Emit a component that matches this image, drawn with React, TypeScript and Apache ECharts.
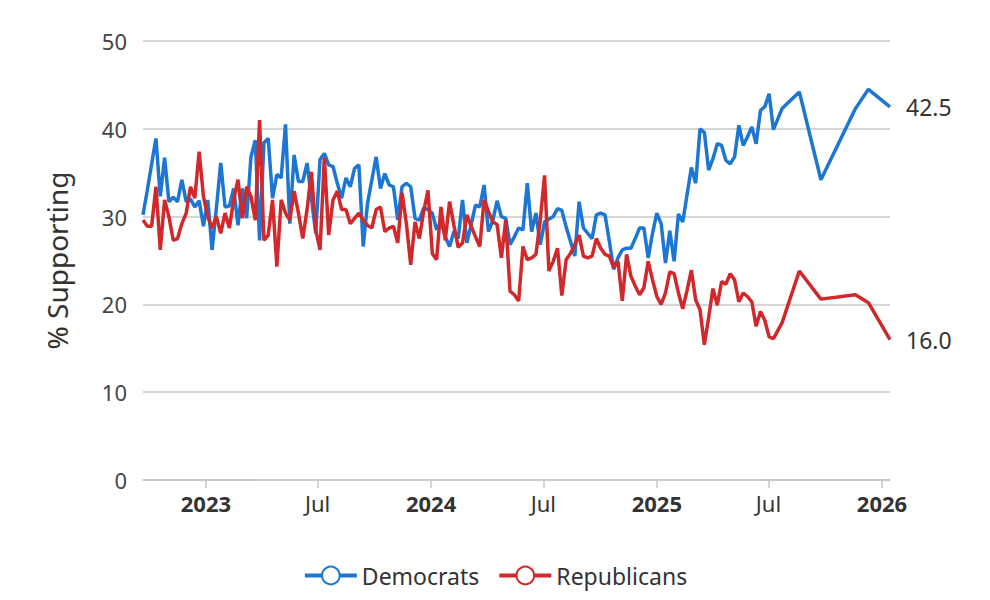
import React, { useEffect, useRef } from 'react';
import * as echarts from 'echarts';

// Weekly polls from this start date, then sparser polls
const weeklyStart = '2022-09-21';

const demWeekly = [
  30.2, 33, 36, 38.9, 32.3, 36.7, 31.7, 32.2, 31.7, 34.2,
  31.7, 32, 31.1, 31.8, 28.9, 31.9, 26.2, 31, 36.1, 31.1,
  31.2, 33.2, 29, 33.2, 29.8, 36.8, 38.7, 27.3, 38.4, 38.9,
  32.1, 34.8, 34.4, 40.5, 29.2, 37, 34, 34, 36.1, 32.1,
  28.1, 36.5, 37.2, 35.9, 35.7, 33.8, 32.1, 34.4, 33.4, 35.5,
  35.9, 26.6, 31.5, 34.2, 36.8, 33.2, 34.9, 33.6, 33.4, 29.6,
  33.4, 33.8, 33.4, 29.8, 29.6, 31, 30.8, 30.4, 28.5, 29.4,
  27.7, 26.6, 28.3, 27.5, 31.9, 27, 29.1, 31.3, 31.1, 33.6,
  28.3, 29.5, 31.8, 30, 29.8, 26.8, 27.7, 28.7, 28.5, 33.8,
  28.3, 30.4, 26.8, 29.4, 29.7, 30, 30.9, 30.7, 28.8, 27.2,
  25.5, 31.7, 28.7, 28.1, 27.5, 30.2, 30.4, 30.2, 27.2, 24,
  25.3, 26.2, 26.4, 26.4, 27.5, 28.7, 28.7, 25.3, 28.1, 30.4,
  29.2, 24.7, 28.4, 24.9, 30.3, 29.4, 32.5, 35.6, 33.8, 40,
  39.6, 35.3, 36.6, 38.3, 38.1, 36.4, 36, 36.8, 40.4, 38.1,
  39.1, 40.2, 38.3, 42.1, 42.5, 44, 39.9,
];

const repWeekly = [
  29.6, 28.9, 28.9, 33.4, 26.2, 31.9, 30, 27.3, 27.5, 29.2,
  30.4, 33.4, 32.1, 37.4, 32.3, 30, 28.7, 30, 28.1, 30.4,
  28.7, 31.9, 34.2, 29.8, 33.4, 32.3, 29.6, 41, 27.3, 27.9,
  31.9, 24.3, 31.9, 30.4, 29.6, 32.9, 30.4, 27.5, 30.8, 35.1,
  28.5, 26.2, 36.7, 27.9, 31.9, 32.9, 30.8, 30.8, 29.2, 29.8,
  30.4, 29.6, 29, 28.7, 30.8, 31.1, 28.3, 28.7, 28.9, 27,
  32.7, 29.2, 24.5, 29.4, 27.5, 30.6, 33, 25.8, 25.1, 31.1,
  27.3, 31.7, 29, 26.5, 27, 30.2, 28.9, 27.7, 26.6, 31.9,
  30.6, 29.4, 29.1, 25.3, 29.6, 21.5, 21.1, 20.4, 26.6, 25.1,
  25.3, 25.7, 29.6, 34.7, 23.8, 24.9, 26.4, 21, 25.1, 25.8,
  26.8, 27.9, 25.5, 25.3, 25.5, 27.5, 26.4, 25.7, 25.5, 24.2,
  24.9, 20.4, 25.7, 23.2, 22.1, 21.1, 21.9, 24.9, 22.8, 20.9,
  20, 21.3, 23.7, 23.5, 21.3, 19.5, 21.6, 23.9, 20.5, 19.4,
  15.4, 18.5, 21.8, 19.9, 22.6, 22.3, 23.5, 22.8, 20.3, 21.3,
  20.9, 20.3, 17.5, 19.2, 18.2, 16.3, 16.1,
];

const laterDates = ['2025-07-23', '2025-08-20', '2025-09-24', '2025-11-19', '2025-12-10', '2026-01-14'];
const demLater = [42.3, 44.2, 34.2, 42.3, 44.5, 42.5];
const repLater = [17.9, 23.8, 20.6, 21.1, 20.2, 16.0];

const seriesNames = ['Democrats', 'Republicans'];
const seriesColors = ['#1c76d2', '#d0282b'];
const yTicks = { min: 0, max: 50, interval: 10 };

const DAY = 86400000;

function buildDates(): number[] {
  const [y, m, d] = weeklyStart.split('-').map(Number);
  const start = Date.UTC(y, m - 1, d);
  const out: number[] = [];
  for (let i = 0; i < demWeekly.length; i++) out.push(start + i * 7 * DAY);
  laterDates.forEach((s) => {
    const [a, b, c] = s.split('-').map(Number);
    out.push(Date.UTC(a, b - 1, c));
  });
  return out;
}

const FONT = '"Noto Sans", "Open Sans", sans-serif';

export default function App() {
  const ref = useRef<HTMLDivElement>(null);
  useEffect(() => {
    if (!ref.current) return;
    const chart = echarts.init(ref.current, undefined, { renderer: 'svg' });
    const dates = buildDates();
    const dem = demWeekly.concat(demLater).map((v, i) => [dates[i], v]);
    const rep = repWeekly.concat(repLater).map((v, i) => [dates[i], v]);
    const mk = (name: string, color: string, data: any[]) => ({
      name,
      type: 'line',
      data,
      showSymbol: false,
      symbol: 'emptyCircle',
      symbolSize: 18,
      lineStyle: { width: 3.5, color },
      itemStyle: { color, borderWidth: 3.5 },
      emphasis: { disabled: true },
      endLabel: {
        show: true,
        formatter: (p: any) => Number(p.value[1]).toFixed(1),
        color: '#333',
        fontSize: 23,
        fontFamily: FONT,
        distance: 16,
      },
    });
    chart.setOption({
      animation: false,
      useUTC: true,
      textStyle: { fontFamily: FONT },
      grid: { left: 143, right: 100, top: 41, bottom: 120, containLabel: false },
      legend: {
        bottom: 8,
        left: 'center',
        itemWidth: 52,
        itemHeight: 22,
        itemGap: 18,
        itemStyle: { borderWidth: 3.5 },
        lineStyle: { width: 4 },
        textStyle: { fontSize: 23, color: '#333', fontFamily: FONT },
        data: seriesNames,
      },
      xAxis: {
        type: 'time',
        min: dates[0],
        max: dates[dates.length - 1],
        splitNumber: 6,
        minInterval: 180 * DAY,
        axisLine: { lineStyle: { color: '#c8c8c8', width: 1.5 } },
        axisTick: { show: true, length: 8, lineStyle: { color: '#c8c8c8', width: 1.5 } },
        splitLine: { show: false },
        axisLabel: {
          fontSize: 22,
          color: '#333',
          margin: 12,
          hideOverlap: false,
          formatter: (val: number) => {
            const dt = new Date(val);
            const m = dt.getUTCMonth();
            if (m === 0) return '{y|' + dt.getUTCFullYear() + '}';
            if (m === 6) return 'Jul';
            return '';
          },
          rich: { y: { fontWeight: 'bold', fontSize: 22, color: '#333', fontFamily: FONT } },
        },
      },
      yAxis: {
        type: 'value',
        min: yTicks.min,
        max: yTicks.max,
        interval: yTicks.interval,
        name: '% Supporting',
        nameLocation: 'middle',
        nameGap: 72,
        nameTextStyle: { fontSize: 28, color: '#333', fontFamily: FONT },
        axisLine: { show: false },
        axisTick: { show: false },
        axisLabel: { fontSize: 22, color: '#444', margin: 16 },
        splitLine: { lineStyle: { color: '#c8c8c8', width: 1.5 } },
      },
      series: [
        mk(seriesNames[0], seriesColors[0], dem),
        mk(seriesNames[1], seriesColors[1], rep),
      ],
    });
    return () => chart.dispose();
  }, []);
  return <div ref={ref} style={{ width: 990, height: 600, margin: -8 }} />;
}
